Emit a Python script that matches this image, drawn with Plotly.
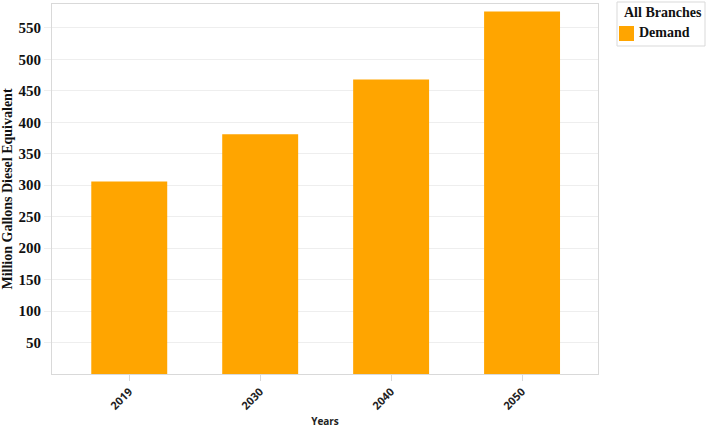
import plotly.graph_objects as go

years = ["2019", "2030", "2040", "2050"]
demand = [306, 381, 468, 576]
y_ticks = [50, 100, 150, 200, 250, 300, 350, 400, 450, 500, 550]
series_name = "Demand"
legend_title = "All Branches"

L, R, T, B = 52, 108, 4, 54
W, H = 706, 428
PW, PH = W - L - R, H - T - B


def px_x(x):
    return (x - L) / PW


def px_y(y):
    return (H - B - y) / PH


fig = go.Figure()
fig.add_trace(go.Bar(
    x=years, y=demand, name=series_name,
    marker=dict(color="#FFA500", line=dict(width=0)),
    width=0.58, showlegend=False,
))

# manual legend (box, swatch, texts)
fig.add_shape(type="rect", xref="paper", yref="paper",
              x0=px_x(617), x1=px_x(705), y0=px_y(46), y1=px_y(2),
              line=dict(color="#d9d9d9", width=1), fillcolor="white", layer="above")
fig.add_shape(type="rect", xref="paper", yref="paper",
              x0=px_x(619), x1=px_x(634), y0=px_y(41), y1=px_y(26),
              line=dict(width=0), fillcolor="#FFA500", layer="above")
fig.add_annotation(xref="paper", yref="paper", x=px_x(622), y=px_y(13),
                   xanchor="left", yanchor="middle", showarrow=False,
                   text=f"<b>{legend_title}</b>",
                   font=dict(family="Liberation Serif", size=14, color="#111"))
fig.add_annotation(xref="paper", yref="paper", x=px_x(637), y=px_y(33),
                   xanchor="left", yanchor="middle", showarrow=False,
                   text=f"<b>{series_name}</b>",
                   font=dict(family="Liberation Serif", size=14, color="#111"))

fig.update_layout(
    width=W, height=H,
    margin=dict(l=L, r=R, t=T, b=B, autoexpand=False),
    paper_bgcolor="white", plot_bgcolor="white",
    showlegend=False,
    xaxis=dict(
        range=[-0.59, 3.58],
        automargin=False,
        title=dict(text="<b>Years</b>", font=dict(family="Open Sans", size=10, color="#222"), standoff=9),
        tickangle=-45,
        tickfont=dict(family="Open Sans", size=11, color="#222"),
        ticks="outside", ticklen=6, tickcolor="#d9d9d9",
        showline=True, linecolor="#d9d9d9", linewidth=1, mirror=True,
        showgrid=False,
        tickprefix="<b>", ticksuffix="</b>",
    ),
    yaxis=dict(
        range=[0, 588],
        automargin=False,
        tickvals=y_ticks,
        ticktext=[f"<b>{v}</b>" for v in y_ticks],
        title=dict(text="<b>Million Gallons Diesel Equivalent</b>", font=dict(family="Liberation Serif", size=14, color="#111"), standoff=2),
        tickfont=dict(family="Liberation Serif", size=15, color="#111"),
        ticks="outside", ticklen=7, tickcolor="#eeeeee",
        showline=True, linecolor="#d9d9d9", linewidth=1, mirror=True,
        showgrid=True, gridcolor="#eeeeee", gridwidth=1,
        zeroline=False,
    ),
)

fig.write_html("out.html", config={"displayModeBar": False},
               post_script="document.body.style.margin='0';")
